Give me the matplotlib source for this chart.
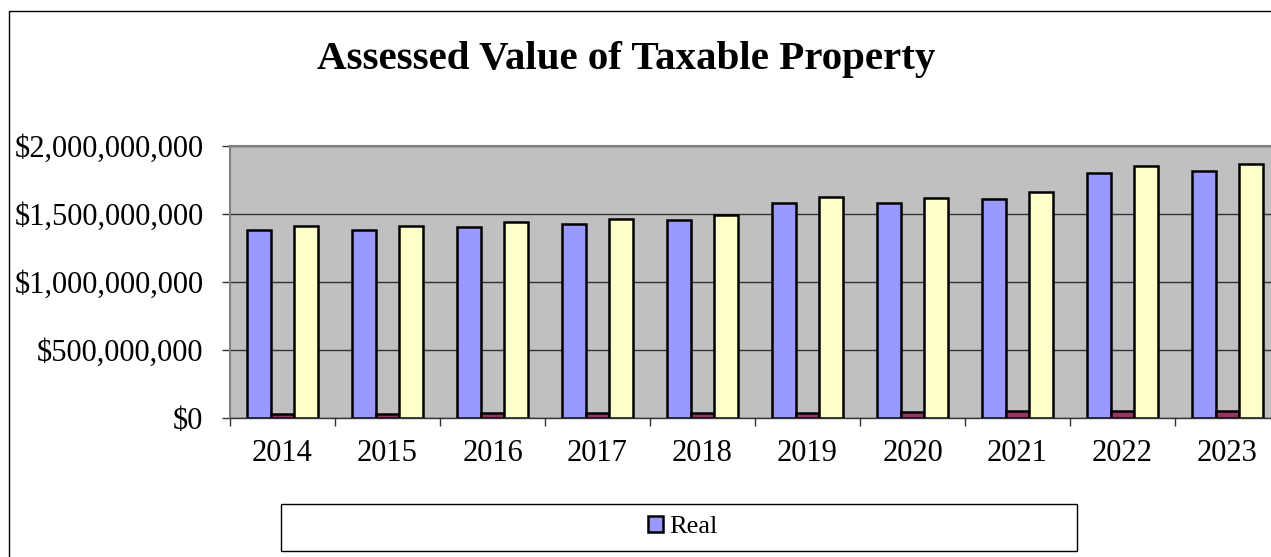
import matplotlib
matplotlib.use("Agg")
import matplotlib.pyplot as plt
import numpy as np
from matplotlib.patches import Rectangle
from matplotlib.ticker import FuncFormatter, FixedLocator

years = ["2014", "2015", "2016", "2017", "2018", "2019", "2020", "2021", "2022", "2023"]
real = [1.382e9, 1.382e9, 1.407e9, 1.426e9, 1.456e9, 1.583e9, 1.579e9, 1.610e9, 1.804e9, 1.814e9]
personal = [30e6, 31e6, 36e6, 36e6, 37e6, 40e6, 41e6, 49e6, 50e6, 54e6]
total = [1.412e9, 1.414e9, 1.444e9, 1.461e9, 1.493e9, 1.623e9, 1.620e9, 1.659e9, 1.853e9, 1.868e9]

plt.rcParams['font.family'] = ['Liberation Serif', 'DejaVu Serif']
W, H = 1271, 557
fig = plt.figure(figsize=(W / 100, H / 100), dpi=100)

# figure border
fig.patches.append(Rectangle((9 / W, 0 - 0.01), 1.1, (H - 11) / H + 0.01, transform=fig.transFigure,
                             fill=False, edgecolor='black', linewidth=1.0))

ax = fig.add_axes([230 / W, 139 / H, 1050 / W, 272 / H])
ax.set_facecolor('#C0C0C0')
x = np.arange(len(years))
bw = 0.224
ec = 'black'
lw = 1.8
b1 = ax.bar(x - bw, real, bw, color='#9999FF', edgecolor=ec, linewidth=lw, label='Real', zorder=3)
b2 = ax.bar(x, personal, bw, color='#993366', edgecolor=ec, linewidth=lw, label='Personal', zorder=3)
b3 = ax.bar(x + bw, total, bw, color='#FFFFCC', edgecolor=ec, linewidth=lw, label='Total', zorder=3)

ax.set_xlim(-0.5, len(years) - 0.5)
ax.set_ylim(0, 2e9)
ax.set_yticks([0, 5e8, 1e9, 1.5e9, 2e9])
ax.yaxis.set_major_formatter(FuncFormatter(lambda v, p: "${:,.0f}".format(v)))
ax.grid(axis='y', color='#333333', linewidth=1.0, zorder=1)

ax.xaxis.set_major_locator(FixedLocator(np.arange(-0.5, len(years), 1.0)))
ax.xaxis.set_major_formatter(FuncFormatter(lambda v, p: ""))
ax.xaxis.set_minor_locator(FixedLocator(x))
ax.set_xticklabels(years, minor=True)
ax.tick_params(axis='x', which='major', direction='out', length=6, width=1, color='#333333')
ax.tick_params(axis='x', which='minor', length=0, pad=15, labelsize=22)
ax.tick_params(axis='y', direction='out', length=6, width=1, color='#333333', pad=13, labelsize=22)

for s in ['left', 'top']:
    ax.spines[s].set_color('#808080')
    ax.spines[s].set_linewidth(1.5)
ax.spines['bottom'].set_color('#333333')
ax.spines['bottom'].set_linewidth(1.0)
ax.spines['right'].set_visible(False)

fig.text(626 / W, 1 - 60 / H, "Assessed Value of Taxable Property", ha='center', va='center',
         fontsize=29.5, fontweight='bold')

# legend frame
fig.patches.append(Rectangle((281 / W, 1 - 551 / H), (1077 - 281) / W, 47 / H,
                             transform=fig.transFigure, fill=True, facecolor='white',
                             edgecolor='black', linewidth=1.0))
leg = fig.legend(handles=[b1], labels=['Real'], loc='center', bbox_to_anchor=(683 / W, 1 - 527 / H),
                 frameon=False, fontsize=19, handlelength=0.55, handleheight=0.55, handletextpad=0.25)

fig.savefig("out.png", dpi=100)
